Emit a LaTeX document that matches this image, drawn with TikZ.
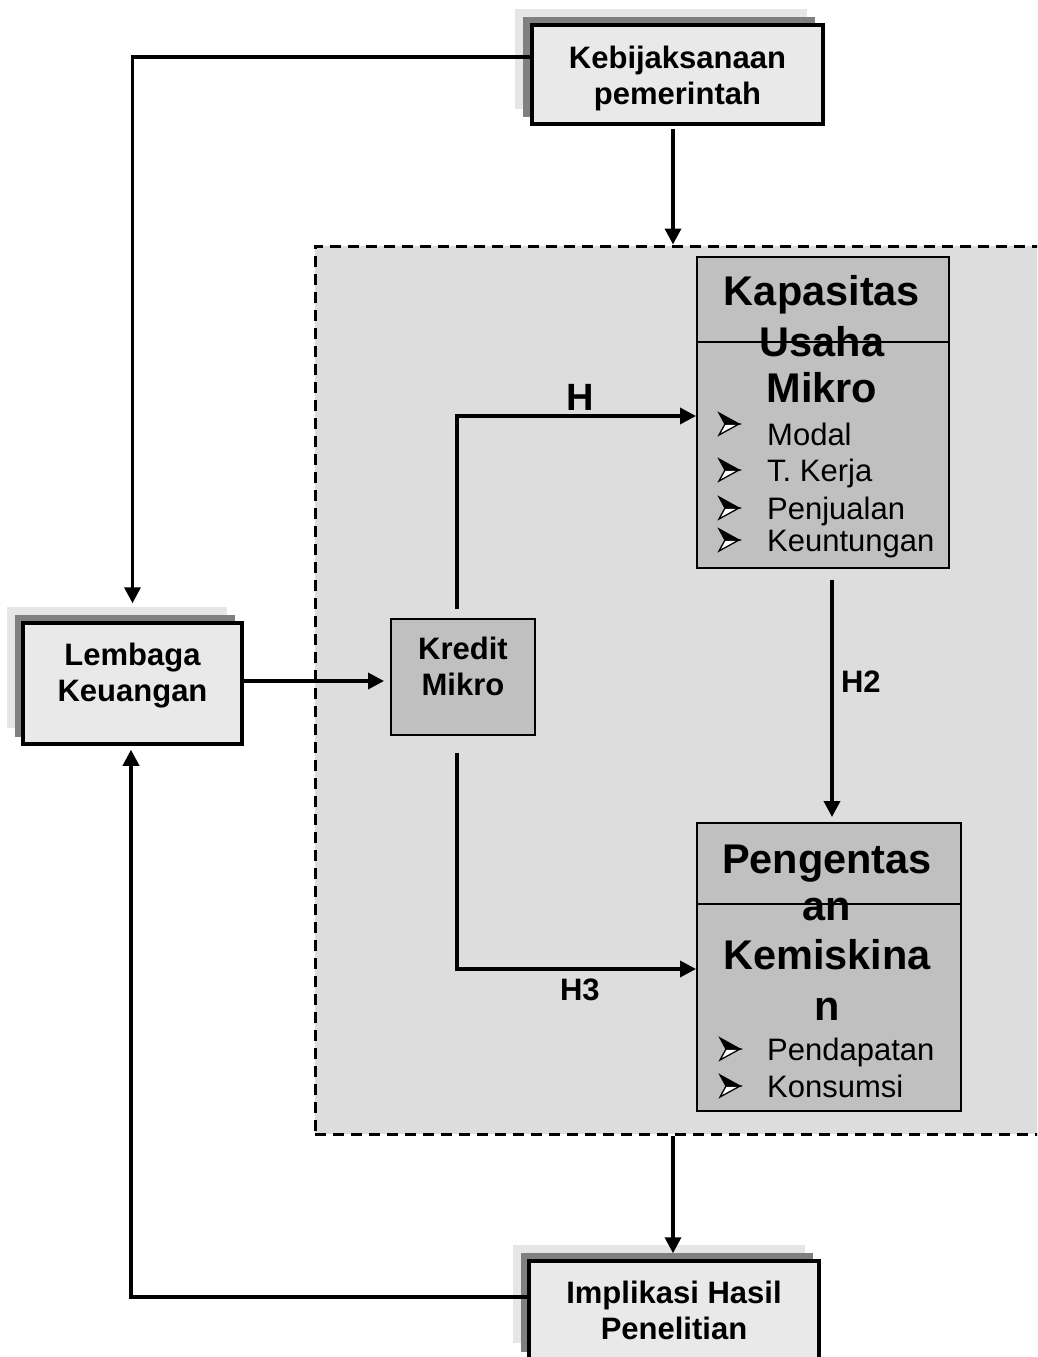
\documentclass[tikz,border=0pt]{standalone}
\usepackage{fontspec}
\setmainfont{Liberation Sans}
\usetikzlibrary{arrows.meta,calc}

\definecolor{kotakmuda}{HTML}{E9E9E9}
\definecolor{bayangmuda}{HTML}{E6E6E6}
\definecolor{bayangtua}{HTML}{808080}
\definecolor{latar}{HTML}{DDDDDD}
\definecolor{kotakabu}{HTML}{C0C0C0}

\tikzset{
  kotak/.style={draw,line width=3.5pt,fill=kotakmuda,align=center,inner sep=0pt,
    font=\fontsize{31}{36}\selectfont\bfseries},
  kotakdalam/.style={draw,line width=2pt,fill=kotakabu,inner sep=0pt},
  teks/.style={align=center,inner sep=0pt,font=\fontsize{31}{36}\selectfont\bfseries},
  judul/.style={anchor=base,inner sep=0pt,font=\fontsize{41.5}{50}\selectfont\bfseries},
  butir/.style={anchor=base west,inner sep=0pt,font=\fontsize{31}{36}\selectfont},
  tanda/.pic={
    \filldraw[fill=white,line width=1.3pt,line join=miter] (10,0) -- (-10,-11) -- (-4,0) -- cycle;
    \filldraw[fill=black,line width=1.3pt,line join=miter] (10,0) -- (-4,0) -- (-10,11) -- cycle;
  },
  panah/.style={line width=3.5pt,-{Triangle[length=16pt,width=16pt]}},
  lbl/.style={font=\fontsize{31}{36}\selectfont\bfseries},
  bayang1/.style={fill=bayangmuda},
  bayang2/.style={fill=bayangtua},
  kerangka/.style={draw,line width=3pt,dash pattern=on 11pt off 7pt,fill=latar,inner sep=0pt},
}

\begin{document}
\begin{tikzpicture}[x=1pt,y=1pt,yscale=-1,xscale=1]
\useasboundingbox (0,0) rectangle (1037,1357);
\clip (0,0) rectangle (1037,1357);

%Shape: dashed area
\node[kerangka,minimum width=730pt,minimum height=888pt] (kerangka) at (680,690) {};

%Shape: shadows
\fill[bayang1] (515,9) rectangle (807,109);
\fill[bayang2] (523,17) rectangle (815,117);
\fill[bayang1] (7,607) rectangle (227,728);
\fill[bayang2] (15,615) rectangle (235,737);
\fill[bayang1] (513,1245) rectangle (805,1343);
\fill[bayang2] (521,1253) rectangle (813,1352);

%Shape: outer boxes
\node[kotak,minimum width=291pt,minimum height=99pt] (kebijakan) at (677.5,74.5) {};
\node[kotak,minimum width=219pt,minimum height=121pt] (lembaga) at (132.5,683.5) {};
\node[kotak,minimum width=290pt,minimum height=99pt] (implikasi) at (674,1310.5) {Implikasi Hasil\\Penelitian};
% Text Node
\node[teks] (kebijakan-teks) at ($(kebijakan)+(0,4)$) {Kebijaksanaan\\pemerintah};
\node[teks] (lembaga-teks) at ($(lembaga)+(0,-8)$) {Lembaga\\Keuangan};

%Shape: inner boxes
\node[kotakdalam,minimum width=144pt,minimum height=116pt] (kredit) at (463,677) {};
\node[teks] (kredit-teks) at ($(kredit)+(0,-11)$) {Kredit\\Mikro};

\node[kotakdalam,minimum width=252pt,minimum height=311pt] (kapasitas) at (823,412.5) {};
\draw[line width=2pt] ($(kapasitas.north west)+(0,86)$) -- ($(kapasitas.north east)+(0,86)$);
\foreach \t/\y [count=\i] in {Kapasitas/305,Usaha/356,Mikro/402}
  \node[judul] (kap-j\i) at (822,\y) {\t};
\foreach \t/\y/\yb [count=\i] in {Modal/445/424,T. Kerja/481/470,Penjualan/519/508,Keuntungan/551/540}{
  \pic (kap-t\i) at (729,\yb) {tanda};
  \node[butir] (kap-b\i) at (767,\y) {\t};
}

\node[kotakdalam,minimum width=264pt,minimum height=288pt] (pengentasan) at (829,967) {};
\draw[line width=2pt] ($(pengentasan.north west)+(0,82)$) -- ($(pengentasan.north east)+(0,82)$);
\foreach \t/\y [count=\i] in {Pengentas/873,an/920,Kemiskina/969,n/1020}
  \node[judul] (pen-j\i) at (827,\y) {\t};
\foreach \t/\y [count=\i] in {Pendapatan/1060,Konsumsi/1097}{
  \pic (pen-t\i) at (730,\y-11) {tanda};
  \node[butir] (pen-b\i) at (767,\y) {\t};
}

%Connectors
\coordinate (kb) at ($(kebijakan.south)+(-4.5,3)$);
\draw[panah] ($(kebijakan.west)+(0,-17.5)$) -| ($(lembaga.north)+(0,-18)$);
\draw[panah] (kb) -- (kb |- kerangka.north);
\draw[panah,shorten >=6pt] ($(lembaga.east)+(0,-2.5)$) -- ($(kredit.west)+(0,4)$);
\draw[panah] ($(kredit.north)+(-6,-9)$) |- ($(kapasitas.west)+(0,3.5)$)
  node[lbl,pos=0.757,above=0pt,font=\fontsize{38}{44}\selectfont\bfseries] (lbl-h) {H};
\coordinate (h2) at ($(kapasitas.south)+(9,10.5)$);
\draw[panah,shorten >=5pt] (h2) -- (h2 |- pengentasan.north)
  node[lbl,pos=0.42,right=4pt] (lbl-h2) {H2};
\draw[panah] ($(kredit.south)+(-6,17)$) |- ($(pengentasan.west)+(0,2)$)
  node[lbl,pos=0.757,below=5pt] (lbl-h3) {H3};
\draw[panah,shorten >=6pt] (kb |- kerangka.south) -- (kb |- implikasi.north);
\draw[panah] ($(implikasi.west)+(0,-13.5)$) -| ($(lembaga.south)+(-1.5,4)$);
\end{tikzpicture}
\end{document}
